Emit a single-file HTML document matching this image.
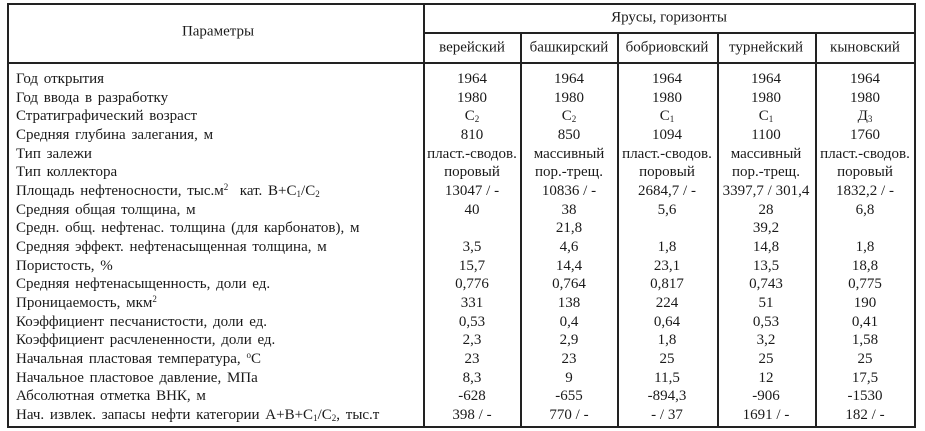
<!DOCTYPE html>
<html><head><meta charset="utf-8"><style>
body{margin:0;background:#fff;width:925px;height:431px;overflow:hidden;position:relative;font-family:"Liberation Serif","Times New Roman","DejaVu Serif",serif;font-size:15px;color:#1a1a1a}
.l{position:absolute;background:#222}
.r{position:absolute;left:0;height:18.67px;line-height:18.67px;width:925px}
.r span{position:absolute;white-space:nowrap}
.p{left:16px;word-spacing:2px}
.c{transform:translateX(-50%)}
sub{font-size:9px;vertical-align:-2px;line-height:0}
sup{font-size:9px;vertical-align:5px;line-height:0}
.h{position:absolute;transform:translate(-50%,-50%);white-space:nowrap}
</style></head><body>
<div class="l" style="left:7px;top:3px;width:909px;height:2px"></div>
<div class="l" style="left:7px;top:426px;width:909px;height:2px"></div>
<div class="l" style="left:7px;top:3px;width:2px;height:425px"></div>
<div class="l" style="left:914px;top:3px;width:2px;height:425px"></div>
<div class="l" style="left:423px;top:3px;width:2px;height:425px"></div>
<div class="l" style="left:423px;top:32px;width:493px;height:1.5px"></div>
<div class="l" style="left:7px;top:62px;width:909px;height:2px"></div>
<div class="l" style="left:520px;top:32px;width:1.5px;height:396px"></div>
<div class="l" style="left:617px;top:32px;width:1.5px;height:396px"></div>
<div class="l" style="left:717px;top:32px;width:1.5px;height:396px"></div>
<div class="l" style="left:815px;top:32px;width:1.5px;height:396px"></div>
<div class="h" style="left:218px;top:32px">Параметры</div>
<div class="h" style="left:669px;top:18px">Ярусы, горизонты</div>
<div class="h" style="left:472px;top:48px">верейский</div>
<div class="h" style="left:569px;top:48px">башкирский</div>
<div class="h" style="left:667px;top:48px">бобриовский</div>
<div class="h" style="left:766px;top:48px">турнейский</div>
<div class="h" style="left:865px;top:48px">кыновский</div>
<div class="r" style="top:70px"><span class="p">Год открытия</span><span class="c" style="left:472px">1964</span><span class="c" style="left:569px">1964</span><span class="c" style="left:667px">1964</span><span class="c" style="left:766px">1964</span><span class="c" style="left:865px">1964</span></div>
<div class="r" style="top:88.7px"><span class="p">Год ввода в разработку</span><span class="c" style="left:472px">1980</span><span class="c" style="left:569px">1980</span><span class="c" style="left:667px">1980</span><span class="c" style="left:766px">1980</span><span class="c" style="left:865px">1980</span></div>
<div class="r" style="top:107.3px"><span class="p">Стратиграфический возраст</span><span class="c" style="left:472px">C<sub>2</sub></span><span class="c" style="left:569px">C<sub>2</sub></span><span class="c" style="left:667px">C<sub>1</sub></span><span class="c" style="left:766px">C<sub>1</sub></span><span class="c" style="left:865px">Д<sub>3</sub></span></div>
<div class="r" style="top:126px"><span class="p">Средняя глубина залегания, м</span><span class="c" style="left:472px">810</span><span class="c" style="left:569px">850</span><span class="c" style="left:667px">1094</span><span class="c" style="left:766px">1100</span><span class="c" style="left:865px">1760</span></div>
<div class="r" style="top:144.7px"><span class="p">Тип залежи</span><span class="c" style="left:472px">пласт.-сводов.</span><span class="c" style="left:569px">массивный</span><span class="c" style="left:667px">пласт.-сводов.</span><span class="c" style="left:766px">массивный</span><span class="c" style="left:865px">пласт.-сводов.</span></div>
<div class="r" style="top:163.3px"><span class="p">Тип коллектора</span><span class="c" style="left:472px">поровый</span><span class="c" style="left:569px">пор.-трещ.</span><span class="c" style="left:667px">поровый</span><span class="c" style="left:766px">пор.-трещ.</span><span class="c" style="left:865px">поровый</span></div>
<div class="r" style="top:182px"><span class="p">Площадь нефтеносности, тыс.м<sup>2</sup>&nbsp; кат. B+C<sub>1</sub>/C<sub>2</sub></span><span class="c" style="left:472px">13047 / -</span><span class="c" style="left:569px">10836 / -</span><span class="c" style="left:667px">2684,7 / -</span><span class="c" style="left:766px">3397,7 / 301,4</span><span class="c" style="left:865px">1832,2 / -</span></div>
<div class="r" style="top:200.7px"><span class="p">Средняя общая толщина, м</span><span class="c" style="left:472px">40</span><span class="c" style="left:569px">38</span><span class="c" style="left:667px">5,6</span><span class="c" style="left:766px">28</span><span class="c" style="left:865px">6,8</span></div>
<div class="r" style="top:219.3px"><span class="p">Средн. общ. нефтенас. толщина (для карбонатов), м</span><span class="c" style="left:569px">21,8</span><span class="c" style="left:766px">39,2</span></div>
<div class="r" style="top:238px"><span class="p">Средняя эффект. нефтенасыщенная толщина, м</span><span class="c" style="left:472px">3,5</span><span class="c" style="left:569px">4,6</span><span class="c" style="left:667px">1,8</span><span class="c" style="left:766px">14,8</span><span class="c" style="left:865px">1,8</span></div>
<div class="r" style="top:256.7px"><span class="p">Пористость, %</span><span class="c" style="left:472px">15,7</span><span class="c" style="left:569px">14,4</span><span class="c" style="left:667px">23,1</span><span class="c" style="left:766px">13,5</span><span class="c" style="left:865px">18,8</span></div>
<div class="r" style="top:275.3px"><span class="p">Средняя нефтенасыщенность, доли ед.</span><span class="c" style="left:472px">0,776</span><span class="c" style="left:569px">0,764</span><span class="c" style="left:667px">0,817</span><span class="c" style="left:766px">0,743</span><span class="c" style="left:865px">0,775</span></div>
<div class="r" style="top:294px"><span class="p">Проницаемость, мкм<sup>2</sup></span><span class="c" style="left:472px">331</span><span class="c" style="left:569px">138</span><span class="c" style="left:667px">224</span><span class="c" style="left:766px">51</span><span class="c" style="left:865px">190</span></div>
<div class="r" style="top:312.7px"><span class="p">Коэффициент песчанистости, доли ед.</span><span class="c" style="left:472px">0,53</span><span class="c" style="left:569px">0,4</span><span class="c" style="left:667px">0,64</span><span class="c" style="left:766px">0,53</span><span class="c" style="left:865px">0,41</span></div>
<div class="r" style="top:331.3px"><span class="p">Коэффициент расчлененности, доли ед.</span><span class="c" style="left:472px">2,3</span><span class="c" style="left:569px">2,9</span><span class="c" style="left:667px">1,8</span><span class="c" style="left:766px">3,2</span><span class="c" style="left:865px">1,58</span></div>
<div class="r" style="top:350px"><span class="p">Начальная пластовая температура, <sup>o</sup>C</span><span class="c" style="left:472px">23</span><span class="c" style="left:569px">23</span><span class="c" style="left:667px">25</span><span class="c" style="left:766px">25</span><span class="c" style="left:865px">25</span></div>
<div class="r" style="top:368.7px"><span class="p">Начальное пластовое давление, МПа</span><span class="c" style="left:472px">8,3</span><span class="c" style="left:569px">9</span><span class="c" style="left:667px">11,5</span><span class="c" style="left:766px">12</span><span class="c" style="left:865px">17,5</span></div>
<div class="r" style="top:387.3px"><span class="p">Абсолютная отметка ВНК, м</span><span class="c" style="left:472px">-628</span><span class="c" style="left:569px">-655</span><span class="c" style="left:667px">-894,3</span><span class="c" style="left:766px">-906</span><span class="c" style="left:865px">-1530</span></div>
<div class="r" style="top:406px"><span class="p">Нач. извлек. запасы нефти категории A+B+C<sub>1</sub>/C<sub>2</sub>, тыс.т</span><span class="c" style="left:472px">398 / -</span><span class="c" style="left:569px">770 / -</span><span class="c" style="left:667px">- / 37</span><span class="c" style="left:766px">1691 / -</span><span class="c" style="left:865px">182 / -</span></div>
</body></html>
